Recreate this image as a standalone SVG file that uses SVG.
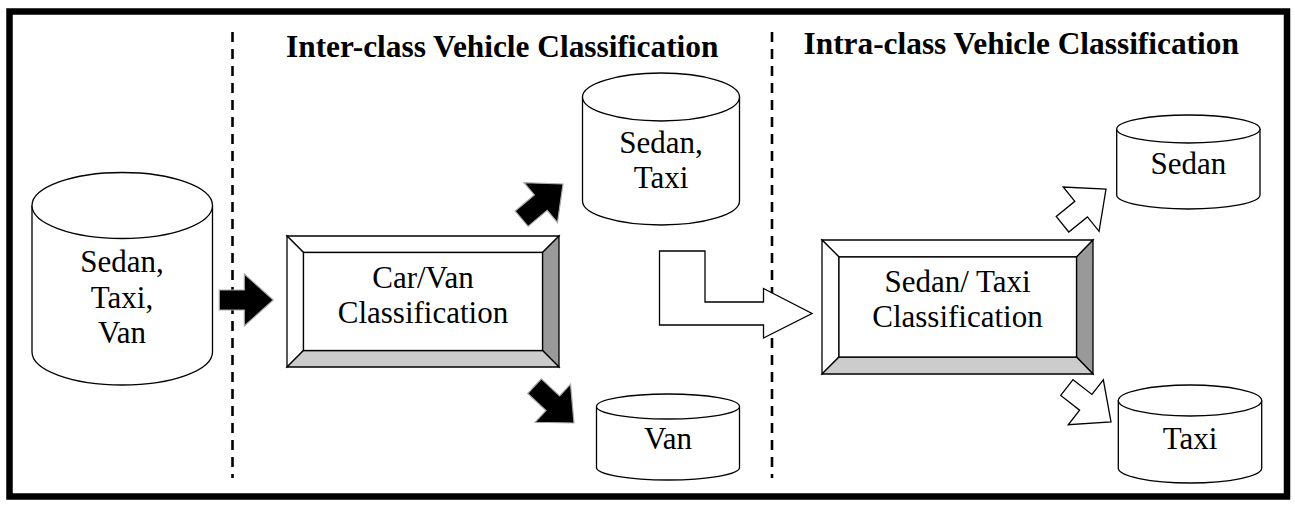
<svg xmlns="http://www.w3.org/2000/svg" xmlns:xlink="http://www.w3.org/1999/xlink" width="1295" height="505" viewBox="0 0 1295 505">
<style>
  text { font-family: 'Liberation Serif', 'DejaVu Serif', serif; fill: #000; }
  .t { font-size: 31px; font-weight: 400; font-style: normal; text-anchor: middle; }
  .h { font-size: 31.35px; font-weight: 700; }
  .cyl { fill: #fff; stroke: #000; stroke-width: 1.3; }
  .bev { stroke: #000; stroke-width: 1.3; stroke-linejoin: miter; }
  .dash { stroke: #000; stroke-width: 2.6; stroke-dasharray: 10 7; fill: none; }
  .blk { fill: #000; stroke: #aaa; stroke-width: 1.2; }
  .wht { fill: #fff; stroke: #000; stroke-width: 1.3; stroke-linejoin: miter; }
</style>
<defs>
  <path id="arrB" d="M-54,-10 H-29 V-26 L0,0 L-29,26 V10 H-54 Z"/>
  <path id="arrW" d="M-56,-10 H-32 V-28.5 L0,0 L-32,28.5 V10 H-56 Z"/>
</defs>
<rect x="0" y="0" width="1295" height="505" fill="#fff"/>
<rect x="9.5" y="11.5" width="1277.5" height="485" fill="#fff" stroke="#000" stroke-width="6.5"/>

<g id="dividers">
  <line class="dash" x1="232.5" y1="32" x2="232.5" y2="478"/>
  <line class="dash" x1="772" y1="32" x2="772" y2="478"/>
</g>

<g id="titles">
  <text class="h" x="286" y="57">Inter-class Vehicle Classification</text>
  <text class="h" x="803.5" y="54">Intra-class Vehicle Classification</text>
</g>

<g id="db-all">
  <path class="cyl" d="M32,205.5 V352 A90.25,33 0 0 0 212.5,352 V205.5"/>
  <ellipse class="cyl" cx="122.25" cy="205.5" rx="90.25" ry="33"/>
  <text class="t" x="122" y="272">Sedan,</text>
  <text class="t" x="122" y="307.5">Taxi,</text>
  <text class="t" x="122" y="343">Van</text>
</g>

<g id="carvan-box">
  <rect x="287" y="236" width="272" height="131" fill="#fff"/>
  <polygon class="bev" fill="#fff" points="287,236 559,236 542.5,252.5 303.5,252.5"/>
  <polygon class="bev" fill="#fff" points="287,236 303.5,252.5 303.5,350.5 287,367"/>
  <polygon class="bev" fill="#999" points="559,236 559,367 542.5,350.5 542.5,252.5"/>
  <polygon class="bev" fill="#ccc" points="287,367 559,367 542.5,350.5 303.5,350.5"/>
  <rect class="bev" x="303.5" y="252.5" width="239" height="98" fill="#fff"/>
  <text class="t" x="423" y="288">Car/Van</text>
  <text class="t" x="423" y="323">Classification</text>
</g>

<g id="db-sedantaxi">
  <path class="cyl" d="M582.5,97 V201 A78.5,24 0 0 0 739.5,201 V97"/>
  <ellipse class="cyl" cx="661" cy="97" rx="78.5" ry="24"/>
  <text class="t" x="661" y="153">Sedan,</text>
  <text class="t" x="661" y="188">Taxi</text>
</g>

<g id="db-van">
  <path class="cyl" d="M596.5,406.5 V467.5 A71.5,12.5 0 0 0 739.5,467.5 V406.5"/>
  <ellipse class="cyl" cx="668" cy="406.5" rx="71.5" ry="12.5"/>
  <text class="t" x="668" y="448.5">Van</text>
</g>

<g id="sedantaxi-box">
  <rect x="822" y="240" width="271" height="134" fill="#fff"/>
  <polygon class="bev" fill="#fff" points="822,240 1093,240 1076.5,257 839,257"/>
  <polygon class="bev" fill="#fff" points="822,240 839,257 839,357 822,374"/>
  <polygon class="bev" fill="#999" points="1093,240 1093,374 1076.5,357 1076.5,257"/>
  <polygon class="bev" fill="#ccc" points="822,374 1093,374 1076.5,357 839,357"/>
  <rect class="bev" x="839" y="257" width="237.5" height="100" fill="#fff"/>
  <text class="t" x="957.5" y="292">Sedan/ Taxi</text>
  <text class="t" x="957.5" y="327">Classification</text>
</g>

<g id="db-sedan">
  <path class="cyl" d="M1116.7,129 V195 A71.65,14 0 0 0 1260,195 V129"/>
  <ellipse class="cyl" cx="1188.35" cy="129" rx="71.65" ry="14"/>
  <text class="t" x="1188.5" y="174">Sedan</text>
</g>

<g id="db-taxi">
  <path class="cyl" d="M1118.3,400.5 V468 A71.7,15 0 0 0 1261.7,468 V400.5"/>
  <ellipse class="cyl" cx="1190" cy="400.5" rx="71.7" ry="15.5"/>
  <text class="t" x="1190" y="448.5">Taxi</text>
</g>

<g id="connectors">
  <use xlink:href="#arrB" href="#arrB" class="blk" transform="translate(273.3,300)"/>
  <use xlink:href="#arrB" href="#arrB" class="blk" transform="translate(563,184) rotate(-40)"/>
  <use xlink:href="#arrB" href="#arrB" class="blk" transform="translate(574,423) rotate(43)"/>
  <polygon class="wht" points="659.5,251 705,251 705,302 763.5,302 763.5,288.5 812,313.5 763.5,338 763.5,325 659.5,325"/>
  <use xlink:href="#arrW" href="#arrW" class="wht" transform="translate(1106,189) rotate(-39)"/>
  <use xlink:href="#arrW" href="#arrW" class="wht" transform="translate(1111,422) rotate(38)"/>
</g>
</svg>
